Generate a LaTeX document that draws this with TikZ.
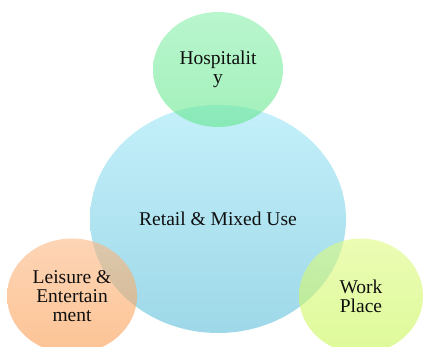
\documentclass[tikz,border=0pt]{standalone}
\usepackage{fontspec}
\setmainfont{Liberation Serif}
\usetikzlibrary{positioning, shapes.geometric}

\definecolor{retailTop}{RGB}{196,240,250}
\definecolor{retailBot}{RGB}{158,216,232}
\definecolor{hospTop}{RGB}{138,240,172}
\definecolor{hospBot}{RGB}{100,230,140}
\definecolor{leisTop}{RGB}{252,185,132}
\definecolor{leisBot}{RGB}{250,155,78}
\definecolor{workTop}{RGB}{222,250,130}
\definecolor{workBot}{RGB}{200,246,85}
\definecolor{labelInk}{RGB}{15,15,15}

\begin{document}
\begin{tikzpicture}[
  x=1pt, y=-1pt,
  font=\fontsize{19.5}{19}\selectfont,
  bubble/.style={ellipse, outer sep=0pt, inner sep=0pt, align=center, text=labelInk},
  hub/.style={bubble, shade, top color=retailTop, bottom color=retailBot,
    minimum width=256pt, minimum height=228pt},
  petal/.style={bubble, shade, fill opacity=0.6, text opacity=1,
    minimum width=130pt, minimum height=115pt}
]
\useasboundingbox (0,0) rectangle (426,347);

% --- Centro ---
\node[hub] (retail) at (218,219) {Retail \& Mixed Use};

% --- Bolhas em volta ---
\node[petal, top color=hospTop, bottom color=hospBot, above=-22pt of retail] (hosp) {Hospitalit\\y};
\node[petal, top color=leisTop, bottom color=leisBot] (leisure) at (72,296) {Leisure \&\\Entertain\\ment};
\node[petal, top color=workTop, bottom color=workBot, minimum width=124pt] (work) at (361,296) {Work\\Place};

\end{tikzpicture}
\end{document}
